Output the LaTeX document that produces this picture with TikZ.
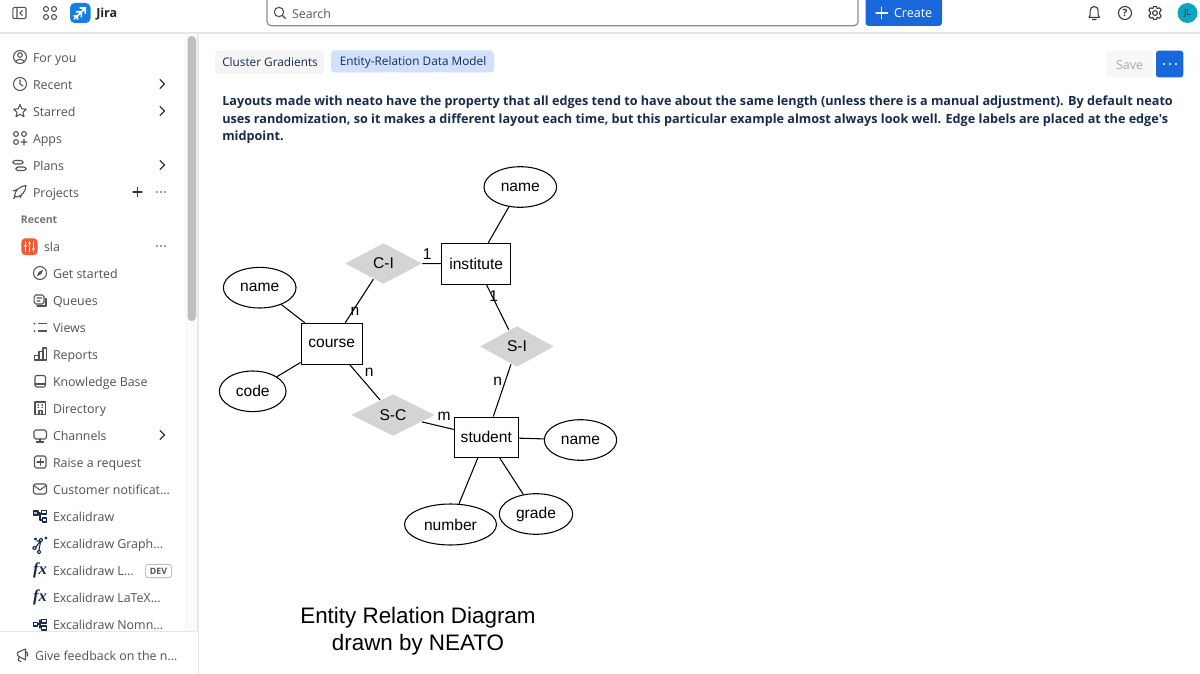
\documentclass[tikz,border=0pt]{standalone}
\usepackage{fontspec}
\setmainfont{Open Sans}[Ligatures=TeXOff]
\newfontfamily\helv{Liberation Sans}
\newfontfamily\serifx{Liberation Serif}
\usetikzlibrary{shapes.geometric}
\definecolor{side}{HTML}{505258}
\definecolor{navy}{HTML}{172B4D}
\definecolor{jblue}{HTML}{1868DB}
\definecolor{hair}{HTML}{E6E7E9}
\definecolor{tabsel}{HTML}{CFE1FD}
\definecolor{slared}{HTML}{F25A34}
\definecolor{avat}{HTML}{0FA5BE}
\tikzset{
 sidetext/.style={anchor=base west,inner sep=0,outer sep=0,yshift=-4.1pt,text=side,font=\fontsize{9.3}{11}\selectfont},
 ico/.style={draw=side,line width=0.8pt,line cap=round,line join=round},
 icn/.style={draw=navy,line width=0.8pt,line cap=round,line join=round},
 chev/.style={draw=black!80,line width=0.85pt,line cap=round,line join=round},
 ent/.style={draw=black,line width=0.8pt,inner sep=0,font=\helv\fontsize{11.7}{13}\selectfont},
 ell/.style={ent,ellipse},
 box/.style={ent,rectangle},
 rel/.style={diamond,fill=black!17,inner sep=0,aspect=1.9,outer sep=0.5pt,font=\helv\fontsize{11.7}{13}\selectfont},
 edge/.style={draw=black,line width=0.8pt},
 elab/.style={inner sep=0,font=\helv\fontsize{11.7}{13}\selectfont},
 para/.style={anchor=base west,inner sep=0,text=navy,font=\bfseries\fontsize{9.49}{12}\selectfont},
 tabt/.style={anchor=base west,inner sep=0,text=navy,font=\fontsize{8.85}{11}\selectfont},
 title/.style={inner sep=0,font=\helv\fontsize{16.8}{19}\selectfont},
}
\newcommand{\sitem}[4]{\node[sidetext] (#1) at (#2,#3) {#4};}
\newcommand{\chevr}[1]{\draw[chev] (160,#1-4.5) -- (164.5,#1) -- (160,#1+4.5);}
\begin{document}
\begin{tikzpicture}[x=0.75pt,y=-0.75pt]
\useasboundingbox (0,0) rectangle (1200,674);
\fill[white] (0,0) rectangle (1200,674);
% --- header and sidebar frame
\fill[black!2] (185,34) rectangle (198,632);
\draw[hair,line width=0.9pt] (0,33) -- (1200,33);
\draw[hair,line width=0.8pt] (198,33) -- (198,674);
\fill[black!25,rounded corners=3pt] (187.5,36) rectangle (196,321);
% panel icon
\draw[ico,rounded corners=1pt] (12.8,7.4) rectangle (26,18.7);
\draw[ico] (17,7.4) -- (17,18.7) (22.3,10.5) -- (20,13) -- (22.3,15.5);
% app grid
\foreach \px/\py in {46/9,54/9,46/17,54/17}{\draw[ico] (\px,\py) circle (2.5);}
% Jira logo
\fill[jblue!85!cyan,rounded corners=3.5pt] (70,3) rectangle (90.5,23);
\draw[white,line width=1.25pt] (79.5,8) -- (85.2,8) -- (85.2,13.7) (75.8,11.8) -- (81.4,11.8) -- (81.4,17.4) (73.5,16) -- (77.6,15.6) -- (77.6,19.8) (85,8.2) -- (74,19.2);
\node[anchor=base west,inner sep=0,text=black!85,font=\bfseries\fontsize{9.4}{11}\selectfont] (jira) at (96,17.5) {Jira};
% search
\draw[draw=black!45,line width=0.9pt,rounded corners=3pt] (267,-4) rectangle (858,25.7);
\draw[ico,line width=0.85pt] (279,12) circle (4.7) (282.5,15.5) -- (285.5,18.5);
\node[sidetext,text=black!65] (search) at (292,13) {Search};
% create
\fill[jblue,rounded corners=2.5pt] (865.5,-4) rectangle (942,26);
\draw[white,line width=1pt,line cap=round] (876,13) -- (887.5,13) (881.8,7.2) -- (881.8,18.8);
\node[sidetext,text=white,font=\fontsize{9.4}{11}\selectfont] (create) at (894,12.4) {Create};
% bell, help, gear, avatar
\draw[draw=black!80,line width=0.8pt,line join=round,line cap=round] (1089,17.3) -- (1090.2,15) -- (1090.2,10.5) arc[start angle=180,end angle=360,radius=4] -- (1098.2,15) -- (1099.4,17.3) -- cycle (1092.5,19.5) -- (1096,19.5);
\draw[draw=black!80,line width=0.8pt] (1125,13) circle (6.5);
\node[inner sep=0,text=black!80,font=\bfseries\fontsize{7.5}{8}\selectfont] (helpq) at (1125,13) {?};
\draw[draw=black!80,line width=0.8pt,line join=round] (1155,13) circle (2.4)
 (1153.5,6.6) -- (1156.5,6.6) -- (1157.2,8.6) -- (1159.6,7.8) -- (1161.2,10.2) -- (1159.7,12) -- (1159.7,14) -- (1161.2,15.8) -- (1159.6,18.2) -- (1157.2,17.4) -- (1156.5,19.4) -- (1153.5,19.4) -- (1152.8,17.4) -- (1150.4,18.2) -- (1148.8,15.8) -- (1150.3,14) -- (1150.3,12) -- (1148.8,10.2) -- (1150.4,7.8) -- (1152.8,8.6) -- cycle;
\fill[avat] (1187.5,13) circle (10);
\node[inner sep=0,text=navy,font=\fontsize{6.6}{8}\selectfont] (avatar) at (1187.5,13) {JL};
% tabs
\fill[black!4,rounded corners=2.5pt] (215,50.5) rectangle (324,74);
\node[tabt] (tabone) at (222,66.3) {Cluster Gradients};
\fill[tabsel,rounded corners=2.5pt] (331,50.5) rectangle (494,72.5);
\node[tabt] (tabtwo) at (339.5,65.5) {Entity-Relation Data Model};
% save and menu
\fill[black!3,rounded corners=2pt] (1106,50.7) rectangle (1152.7,77.3);
\node[sidetext,text=black!33,font=\fontsize{9.4}{11}\selectfont] (save) at (1116,64) {Save};
\fill[jblue,rounded corners=2pt] (1156,50.7) rectangle (1183.3,77.3);
\foreach \px in {1164,1170,1176}{\fill[white] (\px,64) circle (1.2);}
% paragraph
\node[para] (l1) at (222,106) {Layouts made with neato have the property that all edges tend to have about the same length (unless there is a manual adjustment). By default neato};
\node[para] (l2) at (222,123) {uses randomization, so it makes a different layout each time, but this particular example almost always look well. Edge labels are placed at the edge's};
\node[para] (l3) at (222,140) {midpoint.};
% --- sidebar text
\sitem{s1}{33}{57}{For you}
\sitem{s2}{33}{84}{Recent}
\sitem{s3}{33}{111}{Starred}
\sitem{s4}{33}{138}{Apps}
\sitem{s5}{33}{165}{Plans}
\sitem{s6}{33}{192}{Projects}
\node[sidetext,font=\bfseries\fontsize{7.9}{10}\selectfont,text=black!55] (s7) at (21,218.3) {Recent};
\sitem{s8}{44}{246}{sla}
\sitem{s9}{53}{273}{Get started}
\sitem{s10}{53}{300}{Queues}
\sitem{s11}{53}{327}{Views}
\sitem{s12}{53}{354}{Reports}
\sitem{s13}{53}{381}{Knowledge Base}
\sitem{s14}{53}{408}{Directory}
\sitem{s15}{53}{435}{Channels}
\sitem{s16}{53}{462}{Raise a request}
\sitem{s17}{53}{489}{Customer notificat...}
\sitem{s18}{53}{516}{Excalidraw}
\sitem{s19}{53}{543}{Excalidraw Graph...}
\sitem{s20}{53}{570}{Excalidraw L...}
\sitem{s21}{53}{597}{Excalidraw LaTeX...}
\sitem{s22}{53}{624}{Excalidraw Nomn...}
\draw[black!25,line width=0.7pt,rounded corners=2pt] (145.5,564.3) rectangle (171.5,577.7);
\node[inner sep=0,text=side,font=\bfseries\fontsize{6.6}{8}\selectfont] (dev) at (158.5,571) {DEV};
% chevrons, plus, dots
\chevr{84}\chevr{111}\chevr{165}\chevr{435}
\draw[chev] (133,192) -- (142,192) (137.5,187.5) -- (137.5,196.5);
\foreach \ry in {192,246}{\foreach \px in {157,161,165}{\fill[black!75] (\px,\ry) circle (0.9);}}
% sidebar icons
\draw[ico] (20,57) circle (6.5) (20,55) circle (2.3) (15.6,61.6) .. controls (17,58.8) and (23,58.8) .. (24.4,61.6);
\draw[ico] (20,84) circle (6.5) (20,80) -- (20,84) -- (23,86);
\draw[ico] (20,104.5) -- (21.9,108.8) -- (26.3,109.2) -- (23,112.2) -- (24,116.8) -- (20,114.3) -- (16,116.8) -- (17,112.2) -- (13.7,109.2) -- (18.1,108.8) -- cycle;
\draw[ico] (16,134) circle (2.4) (24,134) circle (2.4) (16,142) circle (2.4) (21,142) -- (27,142) (24,139) -- (24,145);
\draw[ico,rounded corners=1.7pt] (13,160.5) rectangle (23,164) (16,167) rectangle (26,170.5);
\draw[ico] (14.5,196) .. controls (15,190) and (20,186) .. (26,185.5) .. controls (26,191) and (22,196) .. (17,197) -- cycle (13,191) -- (17,189.5) (20,198) -- (22,194) (13.5,198.5) -- (15,197);
\fill[slared,rounded corners=3pt] (21.3,238.3) rectangle (37.7,255);
\draw[white,line width=0.9pt] (25.5,241) -- (25.5,252) (29.5,241) -- (29.5,252) (33.5,241) -- (33.5,252);
\fill[white] (25.5,246) circle (1.3) (29.5,243.5) circle (1.3) (33.5,249) circle (1.3);
\draw[ico] (40,273) circle (6.5);
\fill[side] (36.8,276.2) -- (38.8,271.8) -- (43.2,269.8) -- (41.2,274.2) -- cycle;
\draw[ico,rounded corners=1.2pt] (34.2,295) rectangle (44,304) (37,298) -- (41.5,298) (37,301) -- (40,301);
\draw[ico] (46,298.5) -- (46,306) -- (37,306);
\fill[side] (34.5,323.5) circle (1) (34.5,331) circle (1);
\draw[ico] (38.5,323.5) -- (46.5,323.5) (38.5,331) -- (46.5,331);
\draw[ico] (34.5,360) rectangle (39,355.5) (39,360) -- (39,351.5) -- (43,351.5) -- (43,360) -- (39,360) (43,360) -- (43,348) -- (46.5,348) -- (46.5,360) -- (43,360);
\draw[ico,rounded corners=1.5pt] (35,387) -- (35,375.5) -- (45.5,375.5) -- (45.5,387) -- cycle;
\draw[ico] (35,384) -- (45.5,384);
\draw[ico] (35,402) rectangle (45.5,414.5) (39,414.5) -- (39,410.5) -- (42,410.5) -- (42,414.5) (38,405) -- (38.5,405) (42,405) -- (42.5,405) (38,407.5) -- (38.5,407.5) (42,407.5) -- (42.5,407.5);
\draw[ico,rounded corners=1.2pt] (34,430) rectangle (46.5,439);
\draw[ico] (40,439) -- (40,442) (36.5,442) -- (43.5,442);
\draw[ico,rounded corners=1.2pt] (34.5,456) rectangle (46,468);
\draw[ico] (37,462) -- (43.5,462) (40.2,458.7) -- (40.2,465.3);
\draw[ico,rounded corners=1.2pt] (33.5,484) rectangle (46.5,494);
\draw[ico] (33.8,485.5) -- (40,490) -- (46.2,485.5);
\draw[icn,fill=navy!30] (33.5,511) rectangle (38,515);
\draw[icn] (41.5,510.5) rectangle (46.5,514) (42.5,518) rectangle (46.5,522) (38,513) -- (40,513) -- (40,520) -- (42.5,520);
\draw[icn] (34.5,548) circle (1.8) (39,552) circle (1.8) (41,540) circle (1.8) (46,538) circle (0.9) (35.5,539) circle (0.9) (36,547) -- (40,541.5) (39,550) -- (40.5,542) (37,541) -- (39.5,541);
\node[inner sep=0,text=navy,font=\serifx\bfseries\itshape\fontsize{12.5}{13}\selectfont] (fxa) at (40,570) {fx};
\node[inner sep=0,text=navy,font=\serifx\bfseries\itshape\fontsize{12.5}{13}\selectfont] (fxb) at (40,597) {fx};
\draw[icn] (33.5,622.5) rectangle (37.5,626) (41.5,619.5) rectangle (46.5,623) (41.5,626) rectangle (46.5,630) (37.5,624) -- (40,624) (40,620) -- (40,628);
% footer covers the clipped row
\fill[white] (0,632) rectangle (197.5,674);
\draw[hair,line width=0.8pt] (0,631.7) -- (198,631.7);
\node[sidetext] (fb) at (35,655) {Give feedback on the n...};
\draw[ico] (25.5,649) -- (25.5,660) -- (19,656.5) -- (18.5,660.5) -- (21,661.5) (19,656.5) -- (17.5,655) -- (17.5,652.5) -- (25.5,649) (25.5,651.5) -- (27.5,653) -- (27.5,656);
% --- the diagram
\node[ell,minimum width=0.75*72.7,minimum height=0.75*40.6] (nameI) at (520.3,187) {name};
\node[box,minimum width=0.75*69,minimum height=0.75*41] (institute) at (476.2,263.8) {institute};
\node[rel,minimum width=0.75*77,minimum height=0.75*41] (CI) at (383.5,263.5) {C-I};
\node[ell,minimum width=0.75*72.7,minimum height=0.75*40.6,text depth=0.6pt] (nameC) at (259.7,287.7) {name};
\node[box,minimum width=0.75*61.3,minimum height=0.75*40.7] (course) at (331.7,343.7) {course};
\node[ell,minimum width=0.75*66.7,minimum height=0.75*40.6] (code) at (252.7,391.3) {code};
\node[rel,minimum width=0.75*84,minimum height=0.75*42] (SC) at (393,415) {S-C};
\node[rel,minimum width=0.75*74,minimum height=0.75*41] (SI) at (517,346.5) {S-I};
\node[box,minimum width=0.75*64,minimum height=0.75*40.3] (student) at (486.3,437.2) {student};
\node[ell,minimum width=0.75*72.4,minimum height=0.75*40.6] (nameS) at (580.5,440) {name};
\node[ell,minimum width=0.75*92,minimum height=0.75*41] (number) at (450.5,524.5) {number};
\node[ell,minimum width=0.75*73.4,minimum height=0.75*40.6] (grade) at (536,514) {grade};
\draw[edge] (nameI) -- (institute);
\draw[edge] (CI) -- (institute);
\draw[edge] (institute) -- (SI);
\draw[edge] (SI) -- (student);
\draw[edge] (SC) -- (student);
\draw[edge] (course) -- (CI);
\draw[edge] (course) -- (SC);
\draw[edge] (nameC) -- (course);
\draw[edge] (code) -- (course);
\draw[edge] (student) -- (nameS);
\draw[edge] (student) -- (number);
\draw[edge] (student) -- (grade);
\node[elab] (e1) at (355,311) {n};
\node[elab] (e2) at (427.3,254) {1};
\node[elab] (e3) at (369.3,372.7) {n};
\node[elab] (e4) at (444,416.5) {m};
\node[elab] (e5) at (493.7,296.5) {1};
\node[elab] (e6) at (497.7,381.7) {n};
\node[title] (t1) at (418,618) {Entity Relation Diagram};
\node[title] (t2) at (418,644.5) {drawn by NEATO};
\end{tikzpicture}
\end{document}
